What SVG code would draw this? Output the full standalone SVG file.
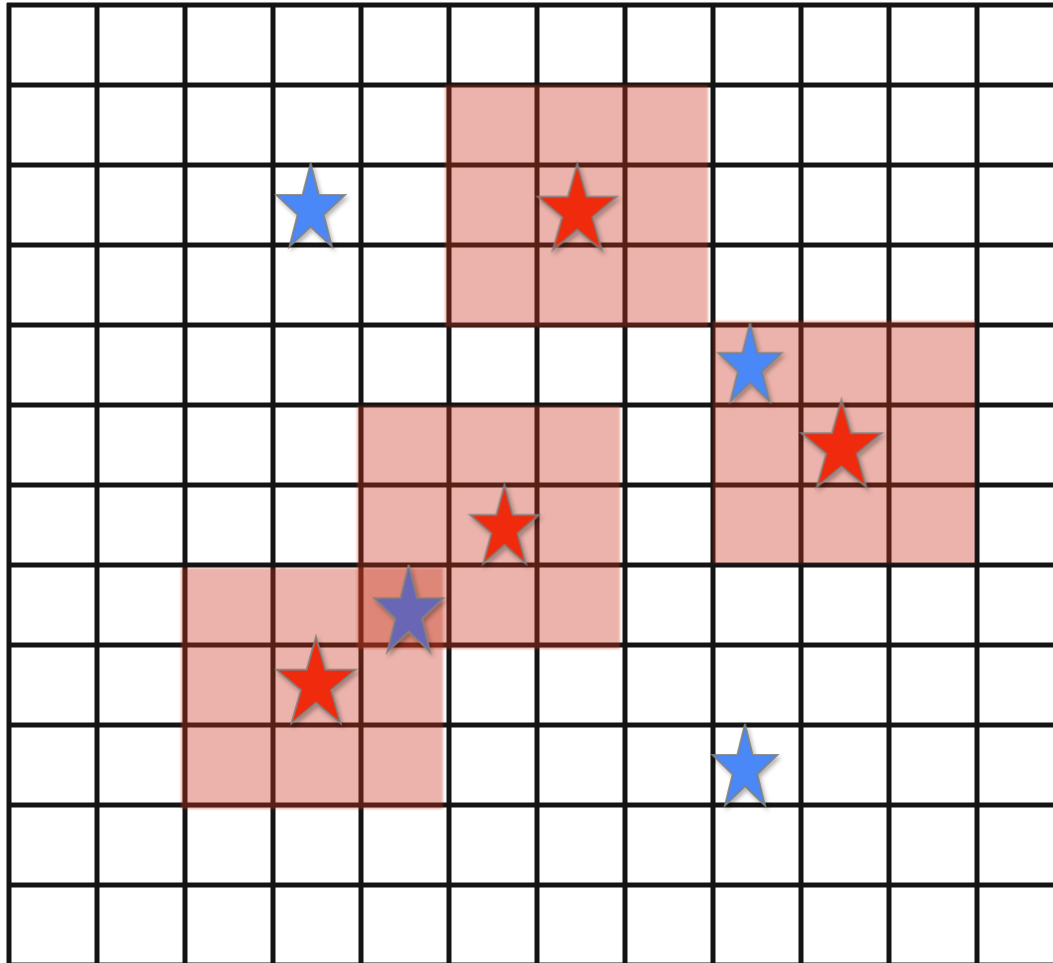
<svg xmlns="http://www.w3.org/2000/svg" xmlns:xlink="http://www.w3.org/1999/xlink" width="1053" height="963" viewBox="0 0 1053 963">
<style>
.grid line{stroke:#141414;stroke-width:5;stroke-linecap:butt}
.zone{fill:rgb(200,54,32);fill-opacity:0.37}
.star{stroke:#808080;stroke-opacity:0.85;stroke-width:2;stroke-linejoin:miter}
.blue{fill:#4a88f6}
.red{fill:#ef2a0a}
.purple{fill:#6a66b6}
</style>
<defs>
<filter id="sh" x="-20%" y="-20%" width="150%" height="150%">
<feDropShadow dx="2" dy="3" stdDeviation="2" flood-color="#000" flood-opacity="0.3"/>
</filter>
<filter id="soft" x="-5%" y="-5%" width="110%" height="110%">
<feGaussianBlur stdDeviation="0.8"/>
</filter>
<polygon id="star" vector-effect="non-scaling-stroke" points="0,-1 0.2245,-0.309 0.9511,-0.309 0.3633,0.118 0.5878,0.809 0,0.382 -0.5878,0.809 -0.3633,0.118 -0.9511,-0.309 -0.2245,-0.309"/>
</defs>
<rect x="0" y="0" width="1053" height="963" fill="#ffffff"/>
<g id="grid" class="grid">
<line x1="9" y1="3" x2="9" y2="963"/>
<line x1="97" y1="3" x2="97" y2="963"/>
<line x1="185" y1="3" x2="185" y2="963"/>
<line x1="273" y1="3" x2="273" y2="963"/>
<line x1="361" y1="3" x2="361" y2="963"/>
<line x1="449" y1="3" x2="449" y2="963"/>
<line x1="537" y1="3" x2="537" y2="963"/>
<line x1="625" y1="3" x2="625" y2="963"/>
<line x1="713" y1="3" x2="713" y2="963"/>
<line x1="801" y1="3" x2="801" y2="963"/>
<line x1="889" y1="3" x2="889" y2="963"/>
<line x1="977" y1="3" x2="977" y2="963"/>
<line x1="7" y1="5" x2="1053" y2="5"/>
<line x1="7" y1="85" x2="1053" y2="85"/>
<line x1="7" y1="165" x2="1053" y2="165"/>
<line x1="7" y1="245" x2="1053" y2="245"/>
<line x1="7" y1="325" x2="1053" y2="325"/>
<line x1="7" y1="405" x2="1053" y2="405"/>
<line x1="7" y1="485" x2="1053" y2="485"/>
<line x1="7" y1="565" x2="1053" y2="565"/>
<line x1="7" y1="645" x2="1053" y2="645"/>
<line x1="7" y1="725" x2="1053" y2="725"/>
<line x1="7" y1="805" x2="1053" y2="805"/>
<line x1="7" y1="885" x2="1053" y2="885"/>
<line x1="7" y1="965" x2="1053" y2="965"/>
</g>
<g id="zones" filter="url(#soft)">
<rect id="zone1" class="zone" x="445" y="85" width="263" height="242"/>
<rect id="zone2" class="zone" x="713" y="321" width="262" height="242"/>
<rect id="zone3" class="zone" x="357" y="406" width="263" height="243"/>
<rect id="zone4" class="zone" x="181" y="568" width="262" height="241"/>
</g>
<g id="stars" filter="url(#sh)">
<g id="star-blue-1" class="star blue"><use xlink:href="#star" href="#star" transform="translate(310.7,209.3) scale(36,46)"/></g>
<g id="star-red-1" class="star red"><use xlink:href="#star" href="#star" transform="translate(577.3,211.5) scale(41.5,47.5)"/></g>
<g id="star-blue-2" class="star blue"><use xlink:href="#star" href="#star" transform="translate(750,366.3) scale(33.3,43.3)"/></g>
<g id="star-red-2" class="star red"><use xlink:href="#star" href="#star" transform="translate(841.5,448) scale(42,48)"/></g>
<g id="star-red-3" class="star red"><use xlink:href="#star" href="#star" transform="translate(504.5,528.3) scale(36,43.3)"/></g>
<g id="star-purple" class="star purple"><use xlink:href="#star" href="#star" transform="translate(408.7,613) scale(36.3,48)"/></g>
<g id="star-red-4" class="star red"><use xlink:href="#star" href="#star" transform="translate(316,684.5) scale(41.5,47.5)"/></g>
<g id="star-blue-3" class="star blue"><use xlink:href="#star" href="#star" transform="translate(745,769) scale(34,45)"/></g>
</g>
</svg>
